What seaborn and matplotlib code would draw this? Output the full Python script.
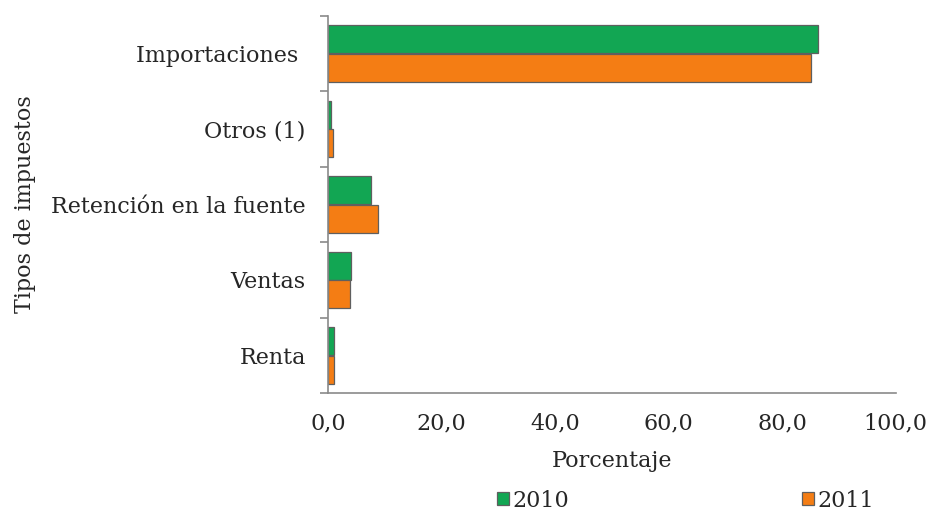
import pandas as pd
import seaborn as sns
import matplotlib.pyplot as plt
from matplotlib.ticker import FuncFormatter, FixedLocator

# datos (porcentaje por tipo de impuesto)
categorias = ["Importaciones ", "Otros (1)", "Retención en la fuente", "Ventas", "Renta"]
anios = ["2010", "2011"]
valores_2010 = [86.4, 0.6, 7.6, 4.1, 1.1]
valores_2011 = [85.1, 0.9, 8.8, 3.8, 1.1]
colores = ["#12A653", "#F47D14"]
xticks = [0, 20, 40, 60, 80, 100]

df = pd.DataFrame({
    "Tipo": categorias * 2,
    "Año": [anios[0]] * len(categorias) + [anios[1]] * len(categorias),
    "Porcentaje": valores_2010 + valores_2011,
})

sns.set_theme(style="white")
plt.rcParams["font.family"] = ["DejaVu Serif"]

fig = plt.figure(figsize=(9.3, 5.16), dpi=100)
ax = fig.add_axes([0.3527, 0.2384, 0.6103, 0.7306])

sns.barplot(data=df, x="Porcentaje", y="Tipo", hue="Año", order=categorias,
            palette=colores, saturation=1, orient="h", width=0.76, gap=0.02,
            edgecolor="#5f5f5f", linewidth=0.9, ax=ax, legend=True)

ax.set_xlim(0, 100)
ax.set_ylim(len(categorias) - 0.5, -0.5)
ax.set_xticks(xticks)
ax.xaxis.set_major_formatter(FuncFormatter(lambda v, p: f"{v:.1f}".replace(".", ",")))
ax.tick_params(axis="x", labelsize=16, length=6, color="#8a8a8a", width=1.2, pad=8, direction="out")
ax.tick_params(axis="y", which="major", labelsize=16, length=0, pad=16)
ax.yaxis.set_minor_locator(FixedLocator([i - 0.5 for i in range(len(categorias) + 1)]))
ax.tick_params(axis="y", which="minor", length=6, color="#8a8a8a", width=1.2, direction="out", left=True)

for s in ["top", "right"]:
    ax.spines[s].set_visible(False)
for s in ["left", "bottom"]:
    ax.spines[s].set_color("#8a8a8a")
    ax.spines[s].set_linewidth(1.2)

ax.set_xlabel("Porcentaje", fontsize=16)
ax.set_ylabel("Tipos de impuestos", fontsize=16)
ax.xaxis.set_label_coords(0.5, -0.15)
ax.yaxis.set_label_coords(-0.515, 0.5)

handles, labels = ax.get_legend_handles_labels()
ax.get_legend().remove()
fig.legend(handles, labels, loc="center", bbox_to_anchor=(0.737, 0.03), ncol=2,
           frameon=False, fontsize=16, handlelength=0.55, handleheight=0.55,
           handletextpad=0.15, columnspacing=10.5)

fig.savefig("out.png", dpi=100)
